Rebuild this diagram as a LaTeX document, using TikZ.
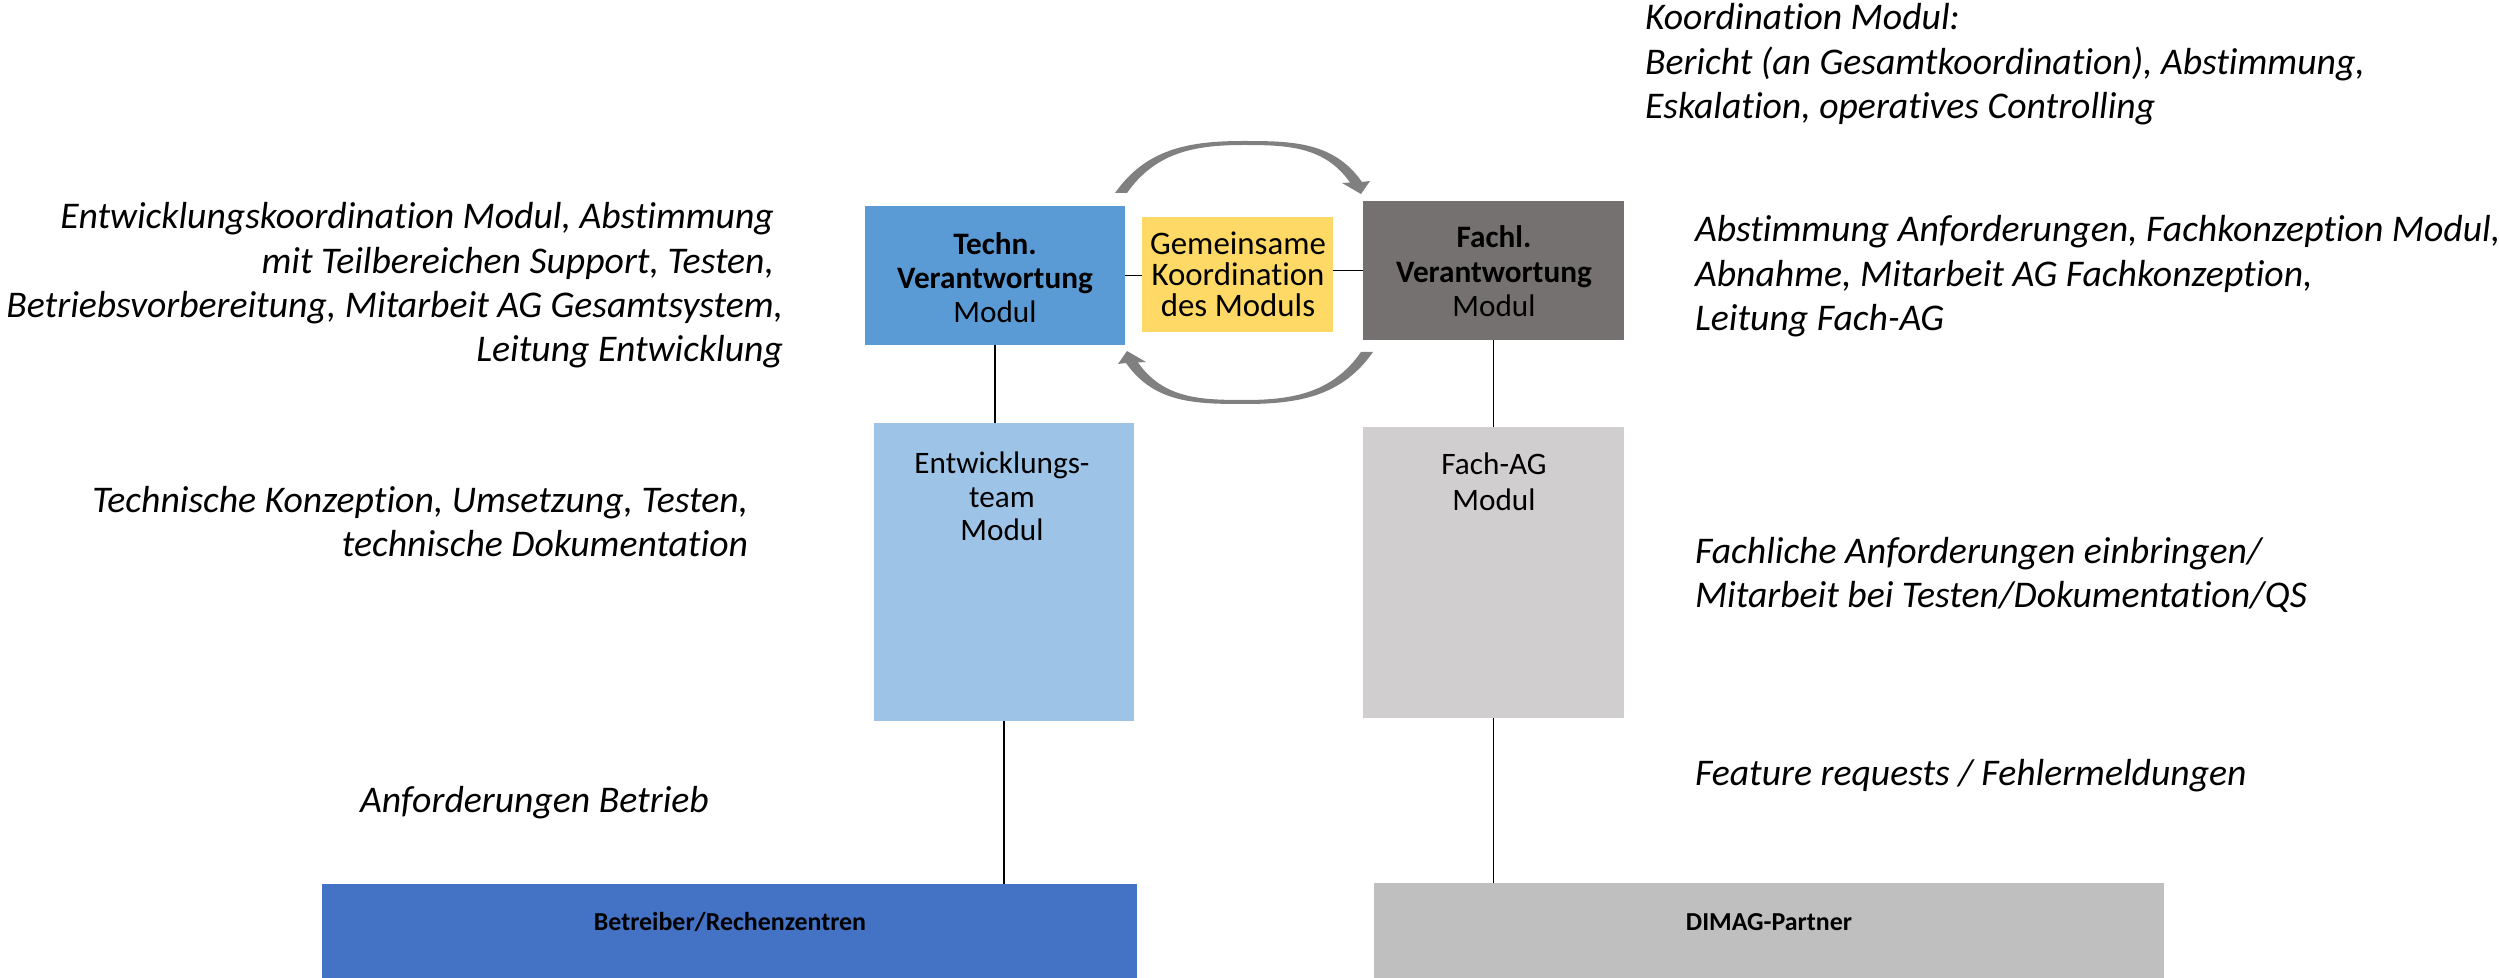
\documentclass[tikz,border=0pt]{standalone}
\usepackage{fontspec}
\setmainfont{Carlito}[Ligatures={NoCommon}]
\definecolor{techblue}{HTML}{5B9BD5}
\definecolor{gemyellow}{HTML}{FFD966}
\definecolor{fachgray}{HTML}{767171}
\definecolor{entwblue}{HTML}{9DC3E6}
\definecolor{fachag}{HTML}{D0CECE}
\definecolor{betrblue}{HTML}{4472C4}
\definecolor{dimaggray}{HTML}{BFBFBF}
\definecolor{arrowgray}{HTML}{808080}
\begin{document}
\begin{tikzpicture}[x=0.3bp, y=0.3bp,
  box/.style={rectangle, inner sep=0pt, outer sep=0pt, draw=none},
  sz/.style 2 args={minimum width={#1*0.3bp}, minimum height={#2*0.3bp}},
  lbl/.style={inner sep=0pt, outer sep=0pt, text=black, font=\fontsize{9.4}{#1}\selectfont},
  lbl/.default=10.2,
  note/.style={inner sep=0pt, outer sep=0pt, text=black, font=\fontsize{11.35}{13.3}\selectfont\itshape},
  conn/.style={draw=black, line width=0.45bp},
  circarrow/.style={fill=arrowgray, draw=none}
]
\useasboundingbox (0,0) rectangle (2499,-978);
\fill[white] (0,0) rectangle (2499,-978);

% boxes
\node[box, fill=techblue, sz={260}{139}] (techn) at (995,-275.5) {};
\node[box, fill=gemyellow, sz={191}{115}] (gem) at (1237.5,-274.5) {};
\node[box, fill=fachgray, sz={261}{139}] (fachl) at (1493.5,-270.5) {};
\node[box, fill=entwblue, sz={260}{298}] (entw) at (1004,-572) {};
\node[box, fill=fachag, sz={261}{291}] (fachagb) at (1493.5,-572.5) {};
\node[box, fill=betrblue, sz={815}{94}] (betr) at (729.5,-931) {};
\node[box, fill=dimaggray, sz={790}{95}] (dimag) at (1769,-930.5) {};

% box texts
\node[lbl, anchor=base] (techn-t) at (995,-255) {\begin{tabular}[t]{@{}c@{}}\textbf{Techn.}\\\textbf{Verantwortung}\\Modul\end{tabular}};
\node[inner sep=0pt, outer sep=0pt, text=black, font=\fontsize{9.9}{8.1}\selectfont, anchor=base] (gem-t) at (1238,-255) {\begin{tabular}[t]{@{}c@{}}Gemeinsame\\Koordination\\des Moduls\end{tabular}};
\node[lbl=10.3, anchor=base] (fachl-t) at (1494,-248) {\begin{tabular}[t]{@{}c@{}}\textbf{Fachl.}\\\textbf{Verantwortung}\\Modul\end{tabular}};
\node[lbl=10, anchor=base] (entw-t) at (1002,-474) {\begin{tabular}[t]{@{}c@{}}Entwicklungs-\\team\\Modul\end{tabular}};
\node[lbl=10.8, anchor=base] (fachag-t) at (1494,-475) {\begin{tabular}[t]{@{}c@{}}Fach-AG\\Modul\end{tabular}};
\node[inner sep=0pt, font=\fontsize{7.8}{9}\selectfont\bfseries, anchor=base] (betr-t) at (730,-930) {Betreiber/Rechenzentren};
\node[inner sep=0pt, font=\fontsize{7.8}{9}\selectfont\bfseries, anchor=base] (dimag-t) at (1769,-930) {DIMAG-Partner};

% connectors
\draw[conn] (techn.east) -- (techn.east -| gem.west);
\draw[conn] (gem.east |- fachl.west) -- (fachl.west);
\draw[conn] (techn.south) -- (techn.south |- entw.north);
\draw[conn] (fachl.south) -- (fachagb.north);
\draw[conn] (entw.south) -- (entw.south |- betr.north);
\draw[conn] (fachagb.south) -- (fachagb.south |- dimag.north);

% circular arrows
\fill[circarrow] (1115,-193) to[out=55,in=180] (1243,-141) to[out=0,in=125] (1362,-182)
  -- (1370,-181) -- (1361,-194) -- (1342,-183) -- (1350,-182.5)
  to[out=125,in=0] (1243,-145) to[out=180,in=55] (1127,-193) -- cycle;
\begin{scope}[rotate around={180:(1244,-272.5)}]
\fill[circarrow] (1115,-193) to[out=55,in=180] (1243,-141) to[out=0,in=125] (1362,-182)
  -- (1370,-181) -- (1361,-194) -- (1342,-183) -- (1350,-182.5)
  to[out=125,in=0] (1243,-145) to[out=180,in=55] (1127,-193) -- cycle;
\end{scope}

% notes
\node[note, anchor=base west] (koord) at (1645,-30) {\begin{tabular}[t]{@{}l@{}}Koordination Modul:\\Bericht (an Gesamtkoordination), Abstimmung,\\Eskalation, operatives Controlling\end{tabular}};
\node[note, anchor=base east] (l1) at (783,-229) {\begin{tabular}[t]{@{}r@{}}Entwicklungskoordination Modul, Abstimmung\kern2.7bp\\mit Teilbereichen Support, Testen,\kern2.7bp\\Betriebsvorbereitung, Mitarbeit AG Gesamtsystem,\\Leitung Entwicklung\end{tabular}};
\node[note, anchor=base east] (l2) at (748,-512) {\begin{tabular}[t]{@{}r@{}}Technische Konzeption, Umsetzung, Testen,\\technische Dokumentation\end{tabular}};
\node[note, anchor=base west] (l3) at (360,-812) {Anforderungen Betrieb};
\node[note, anchor=base west] (r1) at (1695,-242) {\begin{tabular}[t]{@{}l@{}}Abstimmung Anforderungen, Fachkonzeption Modul,\\Abnahme, Mitarbeit AG Fachkonzeption,\\Leitung Fach-AG\end{tabular}};
\node[note, anchor=base west] (r2) at (1695,-563) {\begin{tabular}[t]{@{}l@{}}Fachliche Anforderungen einbringen/\\Mitarbeit bei Testen/Dokumentation/QS\end{tabular}};
\node[note, anchor=base west] (r3) at (1695,-785) {Feature requests / Fehlermeldungen};
\end{tikzpicture}
\end{document}
